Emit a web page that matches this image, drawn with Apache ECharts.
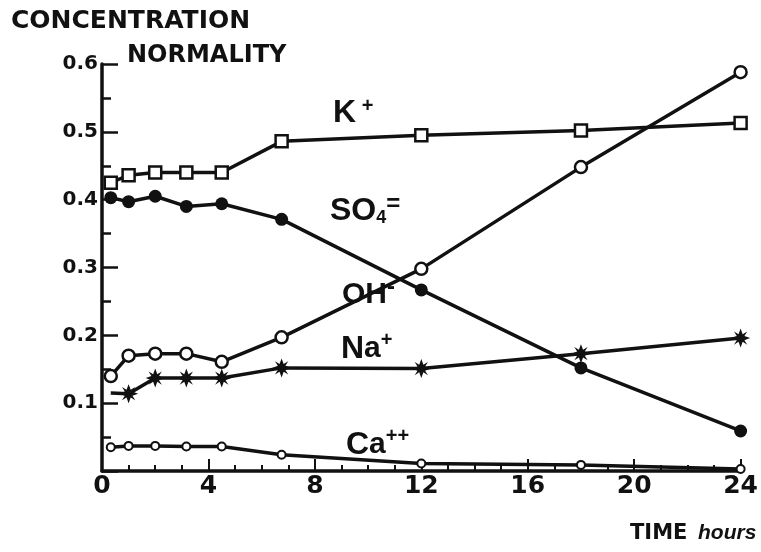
<!DOCTYPE html>
<html><head><meta charset="utf-8">
<script src="https://cdn.jsdelivr.net/npm/echarts@6/dist/echarts.min.js"></script>
<style>html,body{margin:0;padding:0;background:#fff}#c{width:761px;height:552px}</style>
</head><body><div id="c"></div>
<script>
// time (hours)
const hours = [0.33, 1, 2, 3.17, 4.5, 6.75, 12, 18, 24];
// concentrations (normality)
const kPlus  = [0.425, 0.436, 0.440, 0.440, 0.440, 0.486, 0.495, 0.502, 0.513];
const so4    = [0.403, 0.397, 0.405, 0.390, 0.394, 0.371, 0.267, 0.152, 0.059];
const ohMinus= [0.140, 0.170, 0.173, 0.173, 0.161, 0.197, 0.298, 0.448, 0.588];
const naPlus = [0.115, 0.114, 0.137, 0.137, 0.137, 0.152, 0.151, 0.173, 0.196];
const caPlus = [0.035, 0.037, 0.037, 0.036, 0.036, 0.024, 0.011, 0.009, 0.003];
const xTicks = [0, 4, 8, 12, 16, 20, 24];
const yTicks = [0.1, 0.2, 0.3, 0.4, 0.5, 0.6];

const INK = '#111';
const LIB = 'Liberation Sans';
const DJV = 'DejaVu Sans';
const star = 'path://M0,-10 L2.2,-4 L7,-7 L4,-2.2 L10,0 L4,2.2 L7,7 L2.2,4 L0,10 L-2.2,4 L-7,7 L-4,2.2 L-10,0 L-4,-2.2 L-7,-7 L-2.2,-4 Z';
const pts = v => hours.map((h, i) => [h, v[i]]);

function mk(name, vals, symbol, size, fill, bw) {
  return {
    name, type: 'line', data: pts(vals), symbol, symbolSize: size,
    showAllSymbol: true,
    lineStyle: { color: INK, width: 3.5 },
    itemStyle: { color: fill, borderColor: INK, borderWidth: bw },
    z: 3
  };
}
const naSeries = mk('Na', naPlus, star, 19, INK, 0);
naSeries.data = naSeries.data.map((d, i) => i === 0 ? { value: d, symbolSize: 0 } : d);

const chart = echarts.init(document.getElementById('c'), null, { renderer: 'canvas' });
chart.setOption({
  animation: false,
  backgroundColor: '#fff',
  grid: { left: 102, right: 12, top: 64, bottom: 81 },
  xAxis: {
    type: 'value', min: 0, max: 24, interval: 4,
    axisLine: { lineStyle: { color: INK, width: 3.5 } },
    axisTick: { inside: true, length: 12, lineStyle: { color: INK, width: 2 } },
    minorTick: { show: true, splitNumber: 4, length: 6, lineStyle: { color: INK, width: 2 } },
    splitLine: { show: false },
    axisLabel: { color: INK, fontFamily: DJV, fontWeight: 'bold', fontSize: 25, margin: 3,
      formatter: v => xTicks.includes(v) ? String(v) : '' }
  },
  yAxis: {
    type: 'value', min: 0, max: 0.6, interval: 0.1,
    axisLine: { lineStyle: { color: INK, width: 3.5 } },
    axisTick: { inside: true, length: 16, lineStyle: { color: INK, width: 2.5 } },
    minorTick: { show: true, splitNumber: 2, length: 9, lineStyle: { color: INK, width: 2.5 } },
    splitLine: { show: false },
    axisLabel: { color: INK, fontFamily: DJV, fontWeight: 'bold', fontSize: 20, margin: 4,
      formatter: v => { const t = yTicks.find(y => Math.abs(y - v) < 1e-6); return t ? t.toFixed(1) : ''; } }
  },
  series: [
    mk('K', kPlus, 'rect', 12, '#fff', 2.5),
    mk('SO4', so4, 'circle', 13, INK, 0),
    mk('OH', ohMinus, 'circle', 12, '#fff', 2.5),
    naSeries,
    mk('Ca', caPlus, 'circle', 8, '#fff', 2)
  ],
  graphic: [
    { type: 'text', left: 11, top: 9, style: { text: 'CONCENTRATION', fill: INK, font: 'bold 25px ' + DJV } },
    { type: 'text', left: 127, top: 44, style: { text: 'NORMALITY', fill: INK, font: 'bold 24px ' + DJV } },
    { type: 'text', left: 630, top: 523, style: { text: 'TIME', fill: INK, font: 'bold 21px ' + DJV } },
    { type: 'text', left: 698, top: 523, style: { text: 'hours', fill: INK, font: 'italic bold 21px ' + LIB } },
    { type: 'text', left: 333, top: 96, style: { text: '{a|K}{s| +}', fill: INK, rich: {
      a: { font: 'bold 32px ' + LIB, fill: INK },
      s: { font: 'bold 20px ' + LIB, fill: INK, padding: [0,0,14,0] } } } },
    { type: 'text', left: 330, top: 192, style: { text: '{a|SO}{b|4}{s|=}', fill: INK, rich: {
      a: { font: 'bold 32px ' + LIB, fill: INK },
      b: { font: 'bold 18px ' + LIB, fill: INK, padding: [14,0,0,0] },
      s: { font: 'bold 24px ' + LIB, fill: INK, padding: [0,0,14,0] } } } },
    { type: 'text', left: 342, top: 275, style: { text: '{a|OH}{s|-}', fill: INK, rich: {
      a: { font: 'bold 30px ' + LIB, fill: INK },
      s: { font: 'bold 24px ' + LIB, fill: INK, padding: [0,0,16,0] } } } },
    { type: 'text', left: 341, top: 330, style: { text: '{a|N}{b|a}{s|+}', fill: INK, rich: {
      a: { font: 'bold 32px ' + LIB, fill: INK },
      b: { font: 'bold 30px ' + LIB, fill: INK },
      s: { font: 'bold 20px ' + LIB, fill: INK, padding: [0,0,18,0] } } } },
    { type: 'text', left: 346, top: 426, style: { text: '{a|C}{b|a}{s|++}', fill: INK, rich: {
      a: { font: 'bold 32px ' + LIB, fill: INK },
      b: { font: 'bold 30px ' + LIB, fill: INK },
      s: { font: 'bold 20px ' + LIB, fill: INK, padding: [0,0,18,0] } } } }
  ]
});
</script></body></html>
